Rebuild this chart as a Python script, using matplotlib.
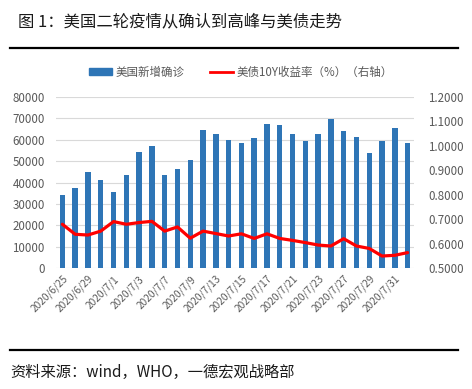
import matplotlib
matplotlib.use("Agg")
import matplotlib.pyplot as plt
from matplotlib.lines import Line2D
from matplotlib.patches import Patch
import numpy as np

plt.rcParams["font.family"] = ["Noto Sans CJK SC", "DejaVu Sans"]

DATES = ["2020/6/25", "2020/6/26", "2020/6/29", "2020/6/30", "2020/7/1", "2020/7/2",
         "2020/7/3", "2020/7/6", "2020/7/7", "2020/7/8", "2020/7/9", "2020/7/10",
         "2020/7/13", "2020/7/14", "2020/7/15", "2020/7/16", "2020/7/17", "2020/7/20",
         "2020/7/21", "2020/7/22", "2020/7/23", "2020/7/24", "2020/7/27", "2020/7/28",
         "2020/7/29", "2020/7/30", "2020/7/31", "2020/8/3"]
NEW_CASES = [34300, 37400, 44700, 41000, 35700, 43600, 54200, 57100, 43600, 46100,
             50300, 64700, 62500, 60000, 58400, 60700, 67200, 66900, 62800, 59200,
             62800, 69700, 63900, 61400, 53900, 59600, 65500, 58300]
YIELD_10Y = [0.679, 0.638, 0.635, 0.651, 0.690, 0.679, 0.686, 0.691, 0.651, 0.668,
             0.622, 0.651, 0.641, 0.631, 0.640, 0.621, 0.640, 0.621, 0.613, 0.604,
             0.594, 0.590, 0.620, 0.590, 0.580, 0.549, 0.552, 0.563]

BAR_COLOR = "#2e75b6"
LINE_COLOR = "#ff0000"
TEXT_GRAY = "#595959"

fig = plt.figure(figsize=(4.72, 3.89), dpi=100)
ax = fig.add_axes([56 / 472, 1 - 268 / 389, 358 / 472, 171 / 389])
ax2 = ax.twinx()

x = np.arange(len(DATES))
ax.bar(x, NEW_CASES, width=0.42, color=BAR_COLOR, zorder=2)
ax2.plot(x, YIELD_10Y, color=LINE_COLOR, linewidth=2.3, solid_joinstyle="round",
         solid_capstyle="round", zorder=3)

ax.set_xlim(-0.5, len(DATES) - 0.5)
ax.set_ylim(0, 80000)
ax2.set_ylim(0.5, 1.2)
ax.set_yticks(np.arange(0, 80001, 10000))
ax2.set_yticks(np.arange(0.5, 1.2001, 0.1))
ax2.set_yticklabels([f"{v:.4f}" for v in np.arange(0.5, 1.2001, 0.1)])
ax.set_xticks(x[::2])
ax.set_xticklabels(DATES[::2], rotation=45, ha="right", rotation_mode="anchor")

ax.grid(axis="y", color="#d9d9d9", linewidth=0.8, zorder=0)
ax.set_axisbelow(True)
for a in (ax, ax2):
    for s in a.spines.values():
        s.set_visible(False)
    a.tick_params(length=0, labelsize=8.3, colors=TEXT_GRAY)
ax.tick_params(axis="x", labelsize=7.3, pad=4)
ax.tick_params(axis="y", pad=8)
ax2.tick_params(axis="y", pad=10)
ax2.set_zorder(ax.get_zorder() + 1)
ax2.patch.set_visible(False)

handles = [Patch(color=BAR_COLOR), Line2D([], [], color=LINE_COLOR, linewidth=2)]
fig.legend(handles, ["美国新增确诊", "美债10Y收益率（%）（右轴）"], loc="center",
           bbox_to_anchor=(0.51, 1 - 72 / 389), ncol=2, frameon=False, fontsize=8.3,
           labelcolor=TEXT_GRAY, handlelength=2.0, handleheight=0.6,
           handletextpad=0.3, columnspacing=2.2)

fig.text(18 / 472, 1 - 22 / 389, "图 1：美国二轮疫情从确认到高峰与美债走势",
         fontsize=11.8, va="center", ha="left", color="#1a1a1a")
fig.add_artist(Line2D([10 / 472, 458 / 472], [1 - 48 / 389] * 2, color="black", linewidth=1.6))
fig.add_artist(Line2D([10 / 472, 458 / 472], [1 - 350 / 389] * 2, color="black", linewidth=1.6))
fig.text(10 / 472, 1 - 372 / 389, "资料来源：wind，WHO，一德宏观战略部",
         fontsize=11, va="center", ha="left", color="#1a1a1a")

fig.savefig("out.png", dpi=100)
